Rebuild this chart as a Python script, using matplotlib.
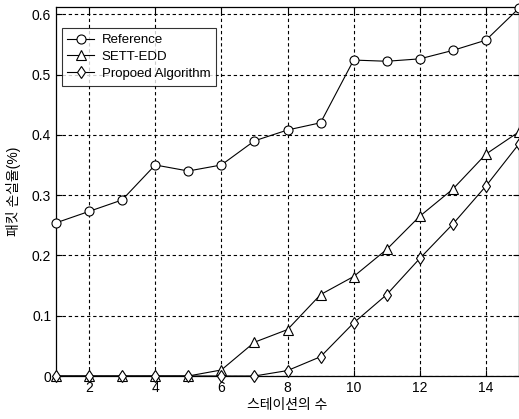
import matplotlib
matplotlib.use("Agg")
import matplotlib.pyplot as plt

plt.rcParams['font.family'] = ['Liberation Sans', 'Noto Sans CJK KR', 'DejaVu Sans']

# data
stations = list(range(1, 16))
reference = [0.254, 0.273, 0.292, 0.350, 0.340, 0.350, 0.390, 0.408, 0.420,
             0.524, 0.522, 0.526, 0.540, 0.557, 0.610]
sett_edd = [0.0, 0.0, 0.0, 0.0, 0.0, 0.010, 0.056, 0.077, 0.135,
            0.165, 0.210, 0.265, 0.310, 0.368, 0.405]
proposed = [0.0, 0.0, 0.0, 0.0, 0.0, 0.0, 0.0, 0.009, 0.032,
            0.088, 0.135, 0.195, 0.252, 0.315, 0.385]

x_ticks = [2, 4, 6, 8, 10, 12, 14]
y_ticks = [0, 0.1, 0.2, 0.3, 0.4, 0.5, 0.6]
y_tick_labels = ["0", "0.1", "0.2", "0.3", "0.4", "0.5", "0.6"]

fig = plt.figure(figsize=(5.19, 4.19), dpi=100)
ax = fig.add_axes([56 / 519, 1 - 376 / 419, 463 / 519, 369 / 419])

style = dict(color="black", lw=0.8, mfc="white", mec="black", mew=0.8, clip_on=False)
ax.plot(stations, reference, marker="o", ms=6.5, label="Reference", zorder=3, **style)
ax.plot(stations, sett_edd, marker="^", ms=6.5, label="SETT-EDD", zorder=4, **style)
ax.plot(stations, proposed, marker="d", ms=6.5, label="Propoed Algorithm", zorder=5, **style)

ax.set_xlim(1, 15)
ax.set_ylim(0, 0.612)
ax.set_xticks(x_ticks)
ax.set_yticks(y_ticks)
ax.set_yticklabels(y_tick_labels)
ax.tick_params(direction="in", top=True, right=True, labelsize=10, length=4, width=0.8)
ax.grid(True, color="black", linestyle=(0, (3, 2.5)), linewidth=0.8)
for s in ax.spines.values():
    s.set_linewidth(0.9)

ax.set_xlabel("스테이션의 수", fontsize=10, labelpad=2)
ax.set_ylabel("패킷 손실율(%)", fontsize=10, labelpad=8)

leg = ax.legend(loc="upper left", bbox_to_anchor=(0.012, 0.943), fontsize=9.5,
                frameon=True, fancybox=False, edgecolor="black",
                borderpad=0.45, labelspacing=0.35, handlelength=2.0,
                handletextpad=0.6, borderaxespad=0.0)
leg.get_frame().set_linewidth(0.8)

fig.savefig("out.png", dpi=100)
